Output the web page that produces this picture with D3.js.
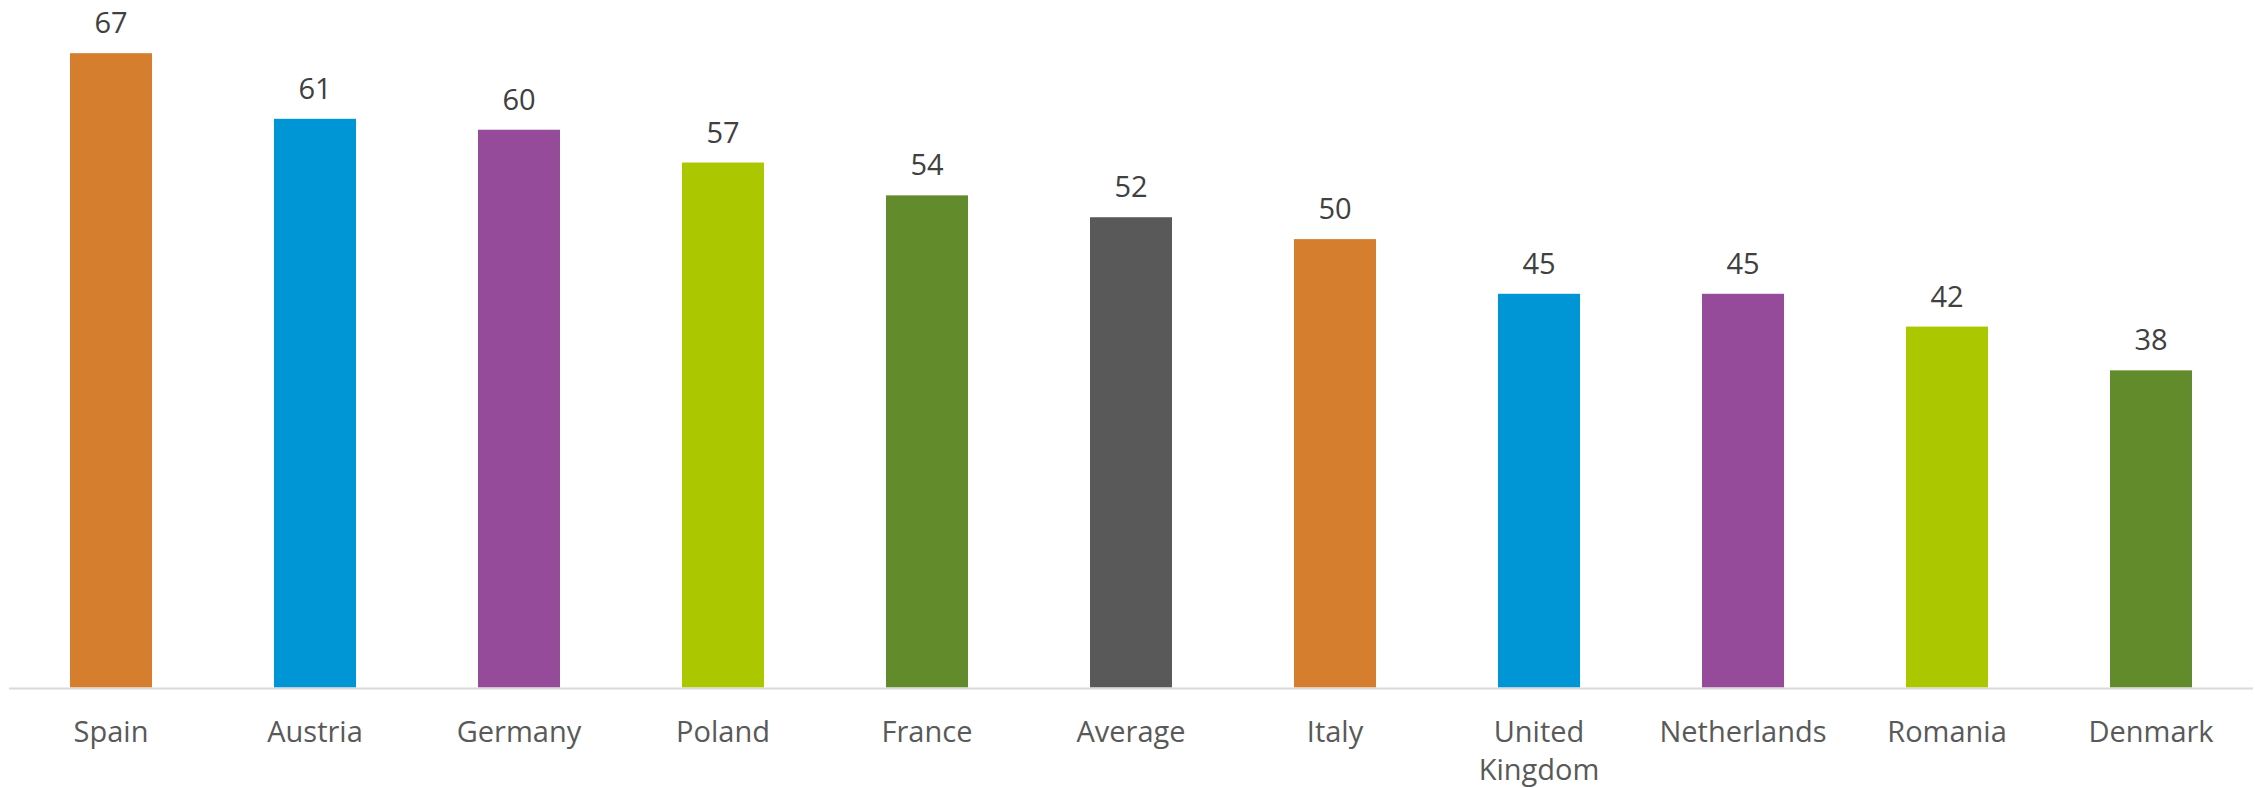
<!DOCTYPE html>
<html>
<head>
<meta charset="utf-8">
<script src="https://cdn.jsdelivr.net/npm/d3@7"></script>
<style>
  html, body { margin: 0; padding: 0; background: #ffffff; }
  svg { display: block; font-family: "Open Sans", "Noto Sans", sans-serif; }
</style>
</head>
<body>
<svg id="chart" width="2255" height="788"></svg>
<script>
// Share by country, plus the overall average
const categories = ["Spain", "Austria", "Germany", "Poland", "France", "Average",
                    "Italy", "United Kingdom", "Netherlands", "Romania", "Denmark"];
const values = [67, 61, 60, 57, 54, 52, 50, 45, 45, 42, 38];
const barColors = ["#D57F2E", "#0096D5", "#954A9A", "#ABC700", "#628B2B", "#595959",
                   "#D57F2E", "#0096D5", "#954A9A", "#ABC700", "#628B2B"];
const yDomain = [9, 72];

const svg = d3.select("#chart");
const baseline = 687.5;
const labelY = 54;
const lineStep = 38;

const x = d3.scaleBand()
  .domain(categories)
  .range([9, 2253])
  .paddingInner(0.598)
  .paddingOuter(0.299);

const y = d3.scaleLinear()
  .domain(yDomain)
  .range([baseline, -1.5]);

// Bars
svg.append("g")
  .selectAll("rect")
  .data(categories)
  .join("rect")
  .attr("x", d => x(d))
  .attr("width", x.bandwidth())
  .attr("y", (d, i) => y(values[i]))
  .attr("height", (d, i) => baseline - y(values[i]))
  .attr("fill", (d, i) => barColors[i]);

// Value labels above bars
svg.append("g")
  .selectAll("text")
  .data(categories)
  .join("text")
  .attr("x", d => x(d) + x.bandwidth() / 2)
  .attr("y", (d, i) => y(values[i]) - 20)
  .attr("text-anchor", "middle")
  .attr("font-size", 29)
  .attr("fill", "#404040")
  .text((d, i) => values[i]);

// Category axis
const axis = svg.append("g")
  .attr("transform", `translate(0,${baseline})`)
  .call(d3.axisBottom(x).tickSize(0).tickPadding(0));
axis.select(".domain").remove();

svg.append("line")
  .attr("x1", 9).attr("x2", 2253)
  .attr("y1", baseline + 1).attr("y2", baseline + 1)
  .attr("stroke", "#D9D9D9")
  .attr("stroke-width", 2);

axis.selectAll(".tick text")
  .attr("font-size", 29)
  .attr("font-family", "'Open Sans', 'Noto Sans', sans-serif")
  .attr("fill", "#595959")
  .attr("dy", null)
  .attr("y", labelY)
  .each(function () { wrap(d3.select(this), x.step() - 4); });

// Break long category names into several lines
function wrap(text, maxWidth) {
  const words = text.text().split(/\s+/);
  text.text(null);
  let line = [];
  let lineNo = 0;
  let tspan = text.append("tspan").attr("x", 0).attr("y", labelY);
  for (const w of words) {
    line.push(w);
    tspan.text(line.join(" "));
    if (tspan.node().getComputedTextLength() > maxWidth && line.length > 1) {
      line.pop();
      tspan.text(line.join(" "));
      line = [w];
      lineNo += 1;
      tspan = text.append("tspan").attr("x", 0).attr("y", labelY + lineNo * lineStep).text(w);
    }
  }
}
</script>
</body>
</html>
